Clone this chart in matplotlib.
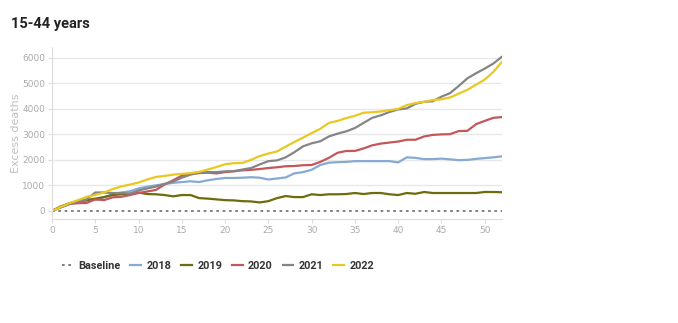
import numpy as np
import matplotlib
matplotlib.use("Agg")
import matplotlib.pyplot as plt

weeks = np.arange(0, 53)

y2018 = [0, 150, 280, 370, 400, 430, 530, 650, 720, 770, 880, 950, 1000, 1050, 1100,
         1130, 1160, 1130, 1200, 1250, 1290, 1290, 1300, 1320, 1300, 1230, 1270, 1310,
         1470, 1520, 1610, 1800, 1890, 1910, 1920, 1950, 1950, 1950, 1950, 1950, 1900,
         2100, 2080, 2030, 2030, 2050, 2020, 1990, 2000, 2040, 2070, 2100, 2140]
y2019 = [0, 170, 300, 380, 420, 480, 540, 620, 650, 650, 720, 660, 650, 620, 570,
         620, 620, 500, 480, 450, 420, 410, 380, 370, 330, 380, 500, 580, 540, 540,
         650, 620, 650, 650, 660, 700, 660, 700, 700, 650, 620, 700, 670, 740, 700,
         700, 700, 700, 700, 700, 740, 740, 730]
y2020 = [0, 150, 270, 300, 310, 450, 420, 530, 550, 620, 700, 760, 820, 1030, 1200,
         1380, 1450, 1480, 1500, 1470, 1520, 1550, 1590, 1610, 1640, 1680, 1710, 1750,
         1760, 1790, 1800, 1920, 2080, 2280, 2350, 2350, 2450, 2570, 2640, 2680, 2720,
         2790, 2790, 2920, 2980, 3000, 3010, 3130, 3140, 3400, 3530, 3650, 3680]
y2021 = [0, 130, 260, 370, 450, 720, 720, 700, 700, 680, 800, 880, 950, 1060, 1150,
         1300, 1420, 1500, 1520, 1520, 1550, 1560, 1620, 1680, 1820, 1950, 1980, 2100,
         2300, 2530, 2650, 2730, 2920, 3030, 3120, 3250, 3450, 3650, 3750, 3880, 3980,
         4020, 4200, 4280, 4300, 4480, 4620, 4900, 5200, 5400, 5580, 5780, 6050]
y2022 = [0, 150, 300, 420, 550, 620, 720, 850, 960, 1030, 1110, 1230, 1330, 1370, 1420,
         1450, 1480, 1530, 1620, 1720, 1830, 1870, 1880, 2000, 2150, 2250, 2330, 2520,
         2700, 2870, 3050, 3220, 3450, 3530, 3640, 3730, 3850, 3870, 3900, 3950, 4000,
         4150, 4230, 4280, 4350, 4380, 4450, 4600, 4750, 4950, 5150, 5450, 5850]

series = [('2018', y2018, '#86aad4'),
          ('2019', y2019, '#6e6b0c'),
          ('2020', y2020, '#c4575a'),
          ('2021', y2021, '#858585'),
          ('2022', y2022, '#e8c821')]

fig = plt.figure(figsize=(6.78, 3.23), dpi=100)
ax = fig.add_axes([52/678, 1 - 219/323, 450/678, 172/323])

for yv in range(1000, 7000, 1000):
    ax.axhline(yv, color='#e8e8e8', lw=1, zorder=0)

ax.plot(weeks, np.zeros(len(weeks)), ls=(0, (1.5, 2)), color='#777777', lw=1.3, label='Baseline')
for name, vals, col in series:
    ax.plot(weeks, vals, color=col, lw=1.6, label=name)

ax.set_xlim(0, 52)
ax.set_ylim(-320, 6430)
ax.set_xticks(range(0, 55, 5))
ax.set_yticks(range(0, 7000, 1000))
for s in ['top', 'right']:
    ax.spines[s].set_visible(False)
for s in ['left', 'bottom']:
    ax.spines[s].set_color('#dddddd')
    ax.spines[s].set_linewidth(0.8)
ax.tick_params(colors='#dddddd', labelcolor='#aaaaaa', labelsize=6.5, length=3, width=0.8, pad=2)
ax.set_ylabel('Excess deaths', color='#c0c0c0', fontsize=8)
ax.yaxis.set_label_coords(-31/450, 0.5)

fig.text(11/678, 1 - 24/323, '15-44 years', fontsize=10.5, fontweight='bold',
         color='#222222', va='center', ha='left', family='Roboto')

leg = fig.legend(loc='center left', bbox_to_anchor=(52/678, 1 - 266/323), ncol=6,
                 frameon=False, handlelength=1.0, handletextpad=0.5, columnspacing=0.9,
                 prop={'family': 'Roboto', 'weight': 'bold', 'size': 7.8})
for t in leg.get_texts():
    t.set_color('#333333')

fig.savefig('out.png', dpi=100)
